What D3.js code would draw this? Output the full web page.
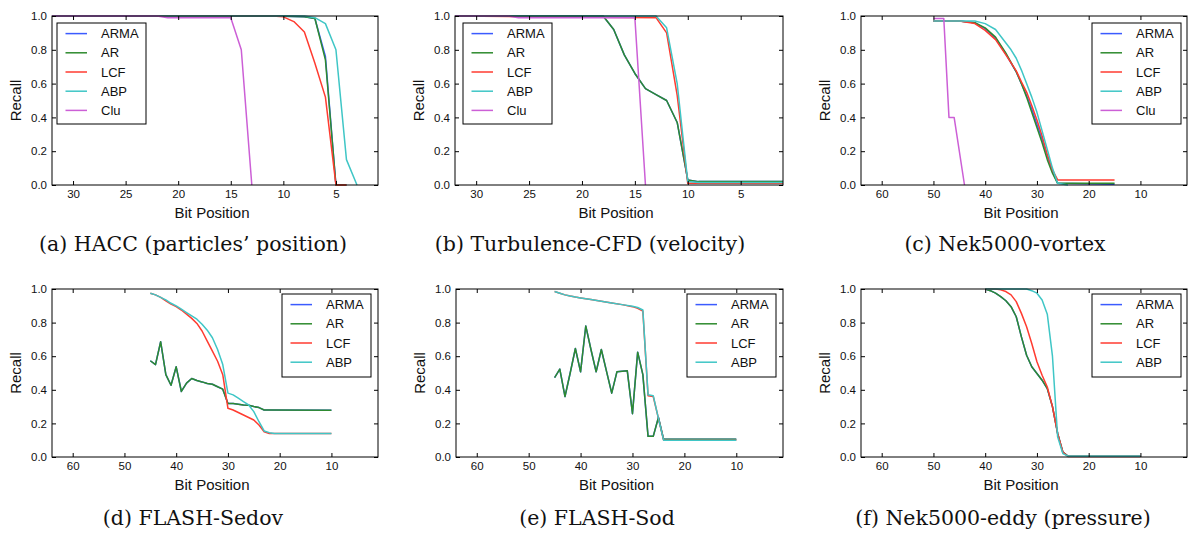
<!DOCTYPE html>
<html>
<head>
<meta charset="utf-8">
<script src="https://cdn.jsdelivr.net/npm/d3@7"></script>
<style>
body { margin: 0; background: #fff; }
svg { display: block; }
.axis text { font-family: "Liberation Sans", Arial, sans-serif; font-size: 11.5px; fill: #111; }
.axis line { stroke: #000; }
.lbl { font-family: "Liberation Sans", Arial, sans-serif; font-size: 15px; fill: #111; }
.leg { font-family: "Liberation Sans", Arial, sans-serif; font-size: 13px; fill: #111; }
.cap { font-family: "DejaVu Serif", "Liberation Serif", serif; font-size: 20.5px; fill: #111; }
</style>
</head>
<body>
<svg id="chart" width="1189" height="533"></svg>
<script>
// series order + colours (matplotlib classic b, g, r, c, m)
var seriesNames = ["ARMA", "AR", "LCF", "ABP", "Clu"];
var seriesColors = ["#3b5bff", "#2e8b2e", "#ff3b30", "#3fc6c6", "#cc5fd6"];

var yTicks = [0, 0.2, 0.4, 0.6, 0.8, 1.0];
var xTicksShort = [30, 25, 20, 15, 10, 5];
var xTicksLong = [60, 50, 40, 30, 20, 10];

// (a) HACC -- [bit position, recall]
var haccARMA = [[32,1],[11,1],[8,0.995],[7,0.985],[6,0.76],[5,0],[4,0]];
var haccAR   = [[32,1],[11,1],[8,0.995],[7,0.985],[6,0.74],[5,0],[4,0]];
var haccLCF  = [[32,1],[11,1],[10,0.995],[9,0.967],[8,0.905],[7,0.72],[6,0.52],[5,0],[4,0]];
var haccABP  = [[32,1],[8,1],[7,0.99],[6,0.955],[5,0.8],[4,0.15],[3,0]];
var haccClu  = [[32,1],[22,1],[21,0.99],[15,0.99],[14,0.8],[13,0]];

// (b) Turbulence-CFD
var turbARMA = [[32,1],[18,1],[17,0.92],[16,0.77],[15,0.66],[14,0.57],[13,0.535],[12,0.5],[11,0.37],[10,0.03],[9,0.02],[1,0.02]];
var turbAR   = [[32,1],[18,1],[17,0.92],[16,0.77],[15,0.66],[14,0.57],[13,0.535],[12,0.5],[11,0.37],[10,0.03],[9,0.02],[1,0.02]];
var turbLCF  = [[32,1],[13,0.99],[12,0.9],[11,0.53],[10,0.01],[1,0.01]];
var turbABP  = [[32,1],[13,1],[12,0.93],[11,0.6],[10,0.02],[9,0.015],[1,0.015]];
var turbClu  = [[32,1],[27,1],[26,0.99],[15,0.99],[14,0]];

// (c) Nek5000-vortex
var vortARMA = [[50,0.97],[45,0.97],[42,0.96],[40,0.925],[38,0.87],[36,0.775],[34,0.67],[33,0.6],[32,0.53],[31,0.45],[30,0.36],[29,0.27],[28,0.17],[27,0.08],[26,0.01],[15,0.005]];
var vortAR   = [[50,0.97],[45,0.97],[42,0.96],[40,0.93],[38,0.875],[36,0.78],[34,0.67],[33,0.6],[32,0.52],[31,0.43],[30,0.34],[29,0.25],[28,0.15],[27,0.07],[26,0.01],[15,0.01]];
var vortLCF  = [[50,0.97],[45,0.97],[42,0.955],[40,0.915],[38,0.86],[36,0.77],[34,0.675],[33,0.61],[32,0.55],[31,0.47],[30,0.385],[29,0.29],[28,0.18],[27,0.09],[26,0.03],[15,0.03]];
var vortABP  = [[50,0.97],[45,0.97],[42,0.97],[40,0.955],[38,0.92],[36,0.84],[35,0.8],[34,0.75],[33,0.68],[32,0.6],[31,0.52],[30,0.43],[29,0.32],[28,0.21],[27,0.1],[26,0.01],[24,0]];
var vortClu  = [[50,0.985],[48,0.985],[47,0.4],[46,0.4],[44,0]];

// (d) FLASH-Sedov
var sedovARMA = [[45,0.573],[44,0.55],[43,0.686],[42,0.49],[41,0.427],[40,0.537],[39,0.39],[38,0.44],[37,0.467],[36,0.455],[35,0.447],[34,0.437],[33,0.433],[32,0.418],[31,0.404],[30,0.318],[29,0.318],[28,0.314],[27,0.31],[26,0.308],[25,0.3],[24,0.294],[23,0.28],[22,0.28],[10,0.278]];
var sedovAR   = [[45,0.573],[44,0.55],[43,0.686],[42,0.49],[41,0.427],[40,0.537],[39,0.39],[38,0.44],[37,0.467],[36,0.455],[35,0.447],[34,0.437],[33,0.433],[32,0.418],[31,0.404],[30,0.318],[29,0.318],[28,0.314],[27,0.31],[26,0.308],[25,0.3],[24,0.294],[23,0.28],[22,0.28],[10,0.278]];
var sedovLCF  = [[45,0.975],[44,0.965],[43,0.95],[42,0.93],[41,0.91],[40,0.895],[39,0.875],[38,0.85],[37,0.825],[36,0.795],[35,0.75],[34,0.69],[33,0.63],[32,0.57],[31,0.49],[30,0.29],[29,0.28],[28,0.265],[27,0.25],[26,0.235],[25,0.22],[24,0.19],[23,0.15],[22,0.14],[10,0.14]];
var sedovABP  = [[45,0.975],[44,0.965],[43,0.95],[42,0.935],[41,0.915],[40,0.9],[39,0.88],[38,0.86],[37,0.84],[36,0.82],[35,0.79],[34,0.755],[33,0.71],[32,0.64],[31,0.55],[30,0.38],[29,0.37],[28,0.35],[27,0.33],[26,0.31],[25,0.27],[24,0.21],[23,0.155],[22,0.145],[21,0.14],[10,0.14]];

// (e) FLASH-Sod
var sodARMA = [[45,0.473],[44,0.523],[43,0.36],[42,0.5],[41,0.646],[40,0.507],[39,0.78],[38,0.64],[37,0.507],[36,0.64],[35,0.51],[34,0.38],[33,0.507],[32,0.51],[31,0.513],[30,0.258],[29,0.624],[28,0.49],[27,0.123],[26,0.123],[25,0.235],[24,0.105],[10,0.105]];
var sodAR   = [[45,0.473],[44,0.523],[43,0.36],[42,0.5],[41,0.646],[40,0.507],[39,0.78],[38,0.64],[37,0.507],[36,0.64],[35,0.51],[34,0.38],[33,0.507],[32,0.51],[31,0.513],[30,0.258],[29,0.624],[28,0.49],[27,0.123],[26,0.123],[25,0.235],[24,0.105],[10,0.105]];
var sodLCF  = [[45,0.985],[44,0.975],[43,0.965],[42,0.958],[41,0.952],[40,0.947],[38,0.937],[36,0.927],[34,0.917],[32,0.907],[30,0.895],[29,0.885],[28,0.868],[27,0.365],[26,0.36],[25,0.23],[24,0.1],[10,0.1]];
var sodABP  = [[45,0.985],[44,0.975],[43,0.965],[42,0.958],[41,0.952],[40,0.947],[38,0.937],[36,0.927],[34,0.917],[32,0.907],[30,0.897],[29,0.89],[28,0.875],[27,0.37],[26,0.365],[25,0.23],[24,0.1],[10,0.1]];

// (f) Nek5000-eddy
var eddyARMA = [[40,1],[39,0.99],[38,0.975],[37,0.955],[36,0.93],[35,0.895],[34,0.835],[33,0.715],[32,0.606],[31,0.537],[30,0.497],[29,0.457],[28,0.407],[27,0.3],[26,0.14],[25,0.03],[24,0.005],[10,0.005]];
var eddyAR   = [[40,1],[39,0.99],[38,0.975],[37,0.955],[36,0.93],[35,0.895],[34,0.835],[33,0.715],[32,0.606],[31,0.537],[30,0.497],[29,0.457],[28,0.407],[27,0.3],[26,0.14],[25,0.03],[24,0.005],[10,0.005]];
var eddyLCF  = [[40,1],[38,1],[37,0.995],[36,0.985],[35,0.965],[34,0.925],[33,0.855],[32,0.775],[31,0.676],[30,0.567],[29,0.487],[28,0.417],[27,0.3],[26,0.14],[25,0.03],[24,0.003],[10,0.003]];
var eddyABP  = [[40,1],[32,1],[31,0.99],[30,0.975],[29,0.935],[28,0.85],[27,0.6],[26,0.12],[25,0.02],[24,0.005],[10,0.005]];

// panel layout (pixel boxes)
var panels = [
  { caption: "(a) HACC (particles\u2019 position)", x0: 52, x1: 378, y0: 16, y1: 185, dom: [32, 1], ticks: xTicksShort,
    leg: [57, 23, 89, 101], capX: 193, capY: 251, series: [haccARMA, haccAR, haccLCF, haccABP, haccClu] },
  { caption: "(b) Turbulence-CFD (velocity)", x0: 455, x1: 783, y0: 16, y1: 185, dom: [32, 1], ticks: xTicksShort,
    leg: [463, 23, 89, 101], capX: 590, capY: 251, series: [turbARMA, turbAR, turbLCF, turbABP, turbClu] },
  { caption: "(c) Nek5000-vortex", x0: 861, x1: 1187, y0: 16, y1: 185, dom: [64, 1], ticks: xTicksLong,
    leg: [1092, 23, 89, 101], capX: 1005, capY: 251, series: [vortARMA, vortAR, vortLCF, vortABP, vortClu] },
  { caption: "(d) FLASH-Sedov", x0: 52, x1: 378, y0: 289, y1: 457, dom: [64, 1], ticks: xTicksLong,
    leg: [282, 294, 89, 83], capX: 193, capY: 525, series: [sedovARMA, sedovAR, sedovLCF, sedovABP] },
  { caption: "(e) FLASH-Sod", x0: 456, x1: 783, y0: 289, y1: 457, dom: [64, 1], ticks: xTicksLong,
    leg: [687, 294, 89, 83], capX: 597, capY: 525, series: [sodARMA, sodAR, sodLCF, sodABP] },
  { caption: "(f) Nek5000-eddy (pressure)", x0: 861, x1: 1187, y0: 289, y1: 457, dom: [64, 1], ticks: xTicksLong,
    leg: [1092, 294, 89, 83], capX: 1003, capY: 525, series: [eddyARMA, eddyAR, eddyLCF, eddyABP] }
];

var svg = d3.select("#chart");

panels.forEach(function(p) {
    var x = d3.scaleLinear().domain(p.dom).range([p.x0, p.x1]);
    var y = d3.scaleLinear().domain([0, 1]).range([p.y1, p.y0]);
    var g = svg.append("g");

    // lines
    var line = d3.line().x(d => x(d[0])).y(d => y(d[1]));
    p.series.forEach(function(s, i) {
        g.append("path")
            .datum(s)
            .attr("d", line)
            .attr("fill", "none")
            .attr("stroke", seriesColors[i])
            .attr("stroke-width", 1.5)
            .attr("stroke-linejoin", "round");
    });

    // axes, ticks point inward on all four sides
    g.append("g").attr("class", "axis")
        .attr("transform", "translate(0," + p.y1 + ")")
        .call(d3.axisBottom(x).tickValues(p.ticks).tickSizeInner(-4).tickSizeOuter(0).tickPadding(5));
    g.append("g").attr("class", "axis")
        .attr("transform", "translate(0," + p.y0 + ")")
        .call(d3.axisTop(x).tickValues(p.ticks).tickSizeInner(-4).tickSizeOuter(0).tickFormat(""));
    g.append("g").attr("class", "axis")
        .attr("transform", "translate(" + p.x0 + ",0)")
        .call(d3.axisLeft(y).tickValues(yTicks).tickSizeInner(-4).tickSizeOuter(0).tickPadding(5).tickFormat(d3.format(".1f")));
    g.append("g").attr("class", "axis")
        .attr("transform", "translate(" + p.x1 + ",0)")
        .call(d3.axisRight(y).tickValues(yTicks).tickSizeInner(-4).tickSizeOuter(0).tickFormat(""));
    g.selectAll(".axis .domain").remove();

    g.append("rect")
        .attr("x", p.x0).attr("y", p.y0)
        .attr("width", p.x1 - p.x0).attr("height", p.y1 - p.y0)
        .attr("fill", "none").attr("stroke", "#000").attr("stroke-width", 1);

    // axis labels
    g.append("text").attr("class", "lbl")
        .attr("x", (p.x0 + p.x1) / 2 - 3).attr("y", p.y1 + 33)
        .attr("text-anchor", "middle")
        .text("Bit Position");
    g.append("text").attr("class", "lbl")
        .attr("transform", "translate(" + (p.x0 - 31) + "," + ((p.y0 + p.y1) / 2) + ") rotate(-90)")
        .attr("text-anchor", "middle")
        .text("Recall");

    // legend
    var lg = g.append("g").attr("transform", "translate(" + p.leg[0] + "," + p.leg[1] + ")");
    lg.append("rect")
        .attr("width", p.leg[2]).attr("height", p.leg[3])
        .attr("fill", "#fff").attr("stroke", "#000").attr("stroke-width", 1);
    p.series.forEach(function(s, i) {
        var ly = 10.6 + i * 19.2;
        lg.append("line")
            .attr("x1", 8.5).attr("x2", 30).attr("y1", ly).attr("y2", ly)
            .attr("stroke", seriesColors[i]).attr("stroke-width", 1.5);
        lg.append("text").attr("class", "leg")
            .attr("x", 44).attr("y", ly).attr("dy", "0.36em")
            .text(seriesNames[i]);
    });

    // caption
    svg.append("text").attr("class", "cap")
        .attr("x", p.capX).attr("y", p.capY)
        .attr("text-anchor", "middle")
        .text(p.caption);
});
</script>
</body>
</html>
